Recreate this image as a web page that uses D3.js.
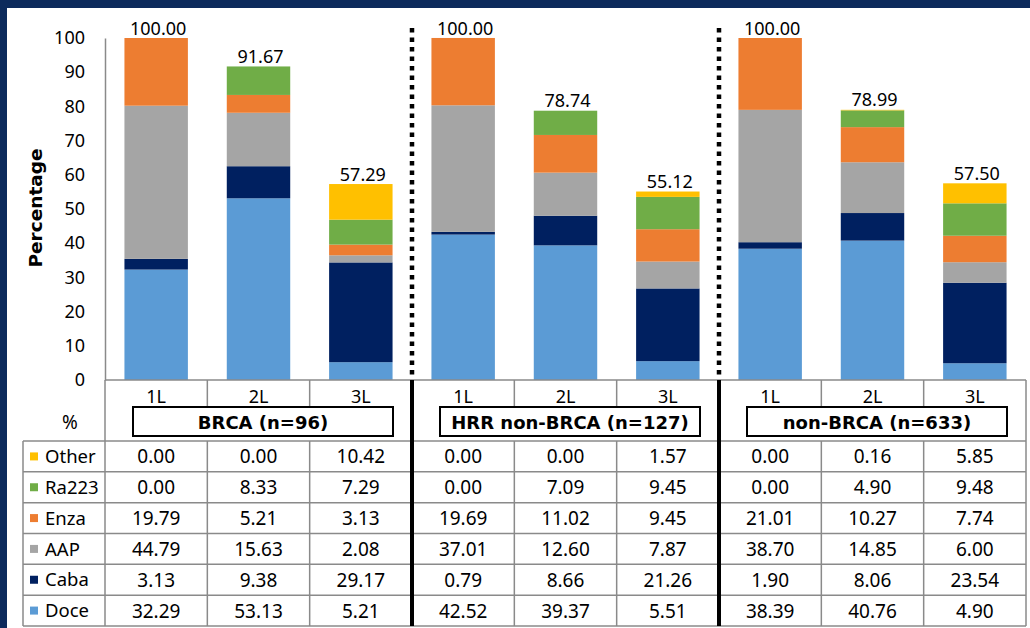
<!DOCTYPE html>
<html>
<head>
<meta charset="utf-8">
<script src="https://cdn.jsdelivr.net/npm/d3@7/dist/d3.min.js"></script>
<style>
  html, body { margin: 0; padding: 0; background: #0c2a5c; }
  svg { display: block; }
  text { font-family: "Noto Sans", "Open Sans", sans-serif; fill: #000; }
  text.bold { font-family: "DejaVu Sans", Verdana, sans-serif; font-weight: bold; }
</style>
</head>
<body>
<svg id="chart" width="1030" height="628"></svg>
<script>
// Treatment share (%) by line of therapy, three patient cohorts
const cohorts = ["BRCA (n=96)", "HRR non-BRCA (n=127)", "non-BRCA (n=633)"];
const therapyLines = ["1L", "2L", "3L"];
const seriesNames = ["Doce", "Caba", "AAP", "Enza", "Ra223", "Other"];
const seriesColors = ["#5b9bd5", "#002060", "#a5a5a5", "#ed7d31", "#70ad47", "#ffc000"];

// values per bar: BRCA 1L-3L, HRR non-BRCA 1L-3L, non-BRCA 1L-3L
const doce  = [32.29, 53.13, 5.21, 42.52, 39.37, 5.51, 38.39, 40.76, 4.90];
const caba  = [3.13, 9.38, 29.17, 0.79, 8.66, 21.26, 1.90, 8.06, 23.54];
const aap   = [44.79, 15.63, 2.08, 37.01, 12.60, 7.87, 38.70, 14.85, 6.00];
const enza  = [19.79, 5.21, 3.13, 19.69, 11.02, 9.45, 21.01, 10.27, 7.74];
const ra223 = [0.00, 8.33, 7.29, 0.00, 7.09, 9.45, 0.00, 4.90, 9.48];
const other = [0.00, 0.00, 10.42, 0.00, 0.00, 1.57, 0.00, 0.16, 5.85];
const totals = [100.00, 91.67, 57.29, 100.00, 78.74, 55.12, 100.00, 78.99, 57.50];
const yTicks = [0, 10, 20, 30, 40, 50, 60, 70, 80, 90, 100];

const seriesValues = [doce, caba, aap, enza, ra223, other];

const svg = d3.select("#chart");
const W = 1030, H = 628;
const plotLeft = 105, plotRight = 1026, plotTop = 38, plotBottom = 380;
const gridColor = "#8a8a8a";

// bar keys
const barKeys = [];
cohorts.forEach((c, gi) => therapyLines.forEach((l, li) => barKeys.push(gi * 3 + li)));

const rows = barKeys.map(i => {
  const r = { key: i };
  seriesNames.forEach((s, si) => r[s] = seriesValues[si][i]);
  return r;
});

const x = d3.scaleBand().domain(barKeys).range([plotLeft, plotRight])
  .paddingInner(0.38).paddingOuter(0.19);
const y = d3.scaleLinear().domain([0, 100]).range([plotBottom, plotTop]);
const color = d3.scaleOrdinal().domain(seriesNames).range(seriesColors);
const step = x.step();
const cellX = i => plotLeft + i * step;   // left edge of a column

// white panel
svg.append("rect").attr("x", 7).attr("y", 8).attr("width", W - 7).attr("height", H - 8)
  .attr("fill", "#ffffff");

// stacked bars
const stacked = d3.stack().keys(seriesNames)(rows);
svg.append("g").selectAll("g").data(stacked).join("g")
  .attr("fill", d => color(d.key))
  .selectAll("rect").data(d => d).join("rect")
  .attr("x", d => x(d.data.key))
  .attr("width", x.bandwidth())
  .attr("y", d => y(d[1]))
  .attr("height", d => Math.max(0, y(d[0]) - y(d[1])));

// total labels
svg.append("g").selectAll("text").data(barKeys).join("text")
  .attr("x", i => x(i) + x.bandwidth() / 2 + 2)
  .attr("y", i => y(totals[i]) - 3.5)
  .attr("text-anchor", "middle")
  .attr("font-size", 18)
  .text(i => d3.format(".2f")(totals[i]));

// y axis
const yAxis = svg.append("g").attr("transform", `translate(${plotLeft},0)`)
  .call(d3.axisLeft(y).tickValues(yTicks).tickSize(0).tickPadding(20));
yAxis.select(".domain").attr("stroke", gridColor).attr("stroke-width", 1.5);
yAxis.selectAll("text").attr("font-size", 18).attr("fill", "#000")
  .attr("font-family", "Noto Sans, Open Sans, sans-serif");

svg.append("text").attr("class", "bold")
  .attr("transform", "translate(42,208) rotate(-90)")
  .attr("text-anchor", "middle")
  .attr("font-size", 18.5)
  .text("Percentage");

// ---------- data table ----------
const tableTop = 441, tableBottom = 626, headerTop = plotBottom;
const tableRows = seriesNames.slice().reverse();
const rowY = d3.scaleBand().domain(tableRows).range([tableTop, tableBottom]);
const labelLeft = 23;
const grid = svg.append("g").attr("stroke", gridColor).attr("stroke-width", 1.5);

// horizontal lines
grid.append("line").attr("x1", plotLeft).attr("x2", plotRight)
  .attr("y1", headerTop).attr("y2", headerTop);
tableRows.forEach(r => {
  grid.append("line").attr("x1", labelLeft).attr("x2", plotRight)
    .attr("y1", rowY(r)).attr("y2", rowY(r));
});
grid.append("line").attr("x1", labelLeft).attr("x2", plotRight)
  .attr("y1", tableBottom).attr("y2", tableBottom);

// vertical lines
grid.append("line").attr("x1", labelLeft).attr("x2", labelLeft)
  .attr("y1", tableTop).attr("y2", tableBottom);
grid.append("line").attr("x1", plotLeft).attr("x2", plotLeft)
  .attr("y1", plotBottom).attr("y2", tableBottom);
grid.append("line").attr("x1", plotRight).attr("x2", plotRight)
  .attr("y1", headerTop).attr("y2", tableBottom);
[1, 2, 4, 5, 7, 8].forEach(i => {
  grid.append("line").attr("x1", cellX(i)).attr("x2", cellX(i))
    .attr("y1", headerTop).attr("y2", 407);
  grid.append("line").attr("x1", cellX(i)).attr("x2", cellX(i))
    .attr("y1", tableTop).attr("y2", tableBottom);
});

// cohort separators: dotted over the plot, solid through the table
[3, 6].forEach(i => {
  svg.append("line").attr("x1", cellX(i)).attr("x2", cellX(i))
    .attr("y1", 28).attr("y2", plotBottom - 3)
    .attr("stroke", "#000").attr("stroke-width", 4.5)
    .attr("stroke-dasharray", "4.5,5");
  svg.append("line").attr("x1", cellX(i)).attr("x2", cellX(i))
    .attr("y1", plotBottom).attr("y2", tableBottom)
    .attr("stroke", "#000").attr("stroke-width", 4);
});

// category labels
svg.append("g").selectAll("text").data(barKeys).join("text")
  .attr("x", i => x(i) + x.bandwidth() / 2)
  .attr("y", 403)
  .attr("text-anchor", "middle")
  .attr("font-size", 18)
  .text(i => therapyLines[i % 3]);

// cohort label boxes
cohorts.forEach((c, gi) => {
  const bx = cellX(gi * 3) + 28, bw = 260;
  svg.append("rect").attr("x", bx).attr("y", 407).attr("width", bw).attr("height", 29)
    .attr("fill", "#fff").attr("stroke", "#000").attr("stroke-width", 2);
  svg.append("text").attr("class", "bold").attr("x", bx + bw / 2).attr("y", 429)
    .attr("text-anchor", "middle").attr("font-size", 18)
    .text(c);
});

svg.append("text").attr("x", 70).attr("y", 429).attr("text-anchor", "middle")
  .attr("font-size", 19).text("%");

// row labels with colour keys
const rowLabel = svg.append("g").selectAll("g").data(tableRows).join("g")
  .attr("transform", r => `translate(0,${rowY(r) + rowY.bandwidth() / 2})`);
rowLabel.append("rect").attr("x", 30).attr("y", -4).attr("width", 8).attr("height", 8)
  .attr("fill", r => color(r));
rowLabel.append("text").attr("x", 45).attr("dy", "0.36em")
  .attr("font-size", 18.5).text(r => r);

// cell values
tableRows.forEach(r => {
  const vals = seriesValues[seriesNames.indexOf(r)];
  svg.append("g").selectAll("text").data(barKeys).join("text")
    .attr("x", i => x(i) + x.bandwidth() / 2)
    .attr("y", rowY(r) + rowY.bandwidth() / 2)
    .attr("dy", "0.37em")
    .attr("text-anchor", "middle")
    .attr("font-size", 19)
    .text(i => d3.format(".2f")(vals[i]));
});
</script>
</body>
</html>
